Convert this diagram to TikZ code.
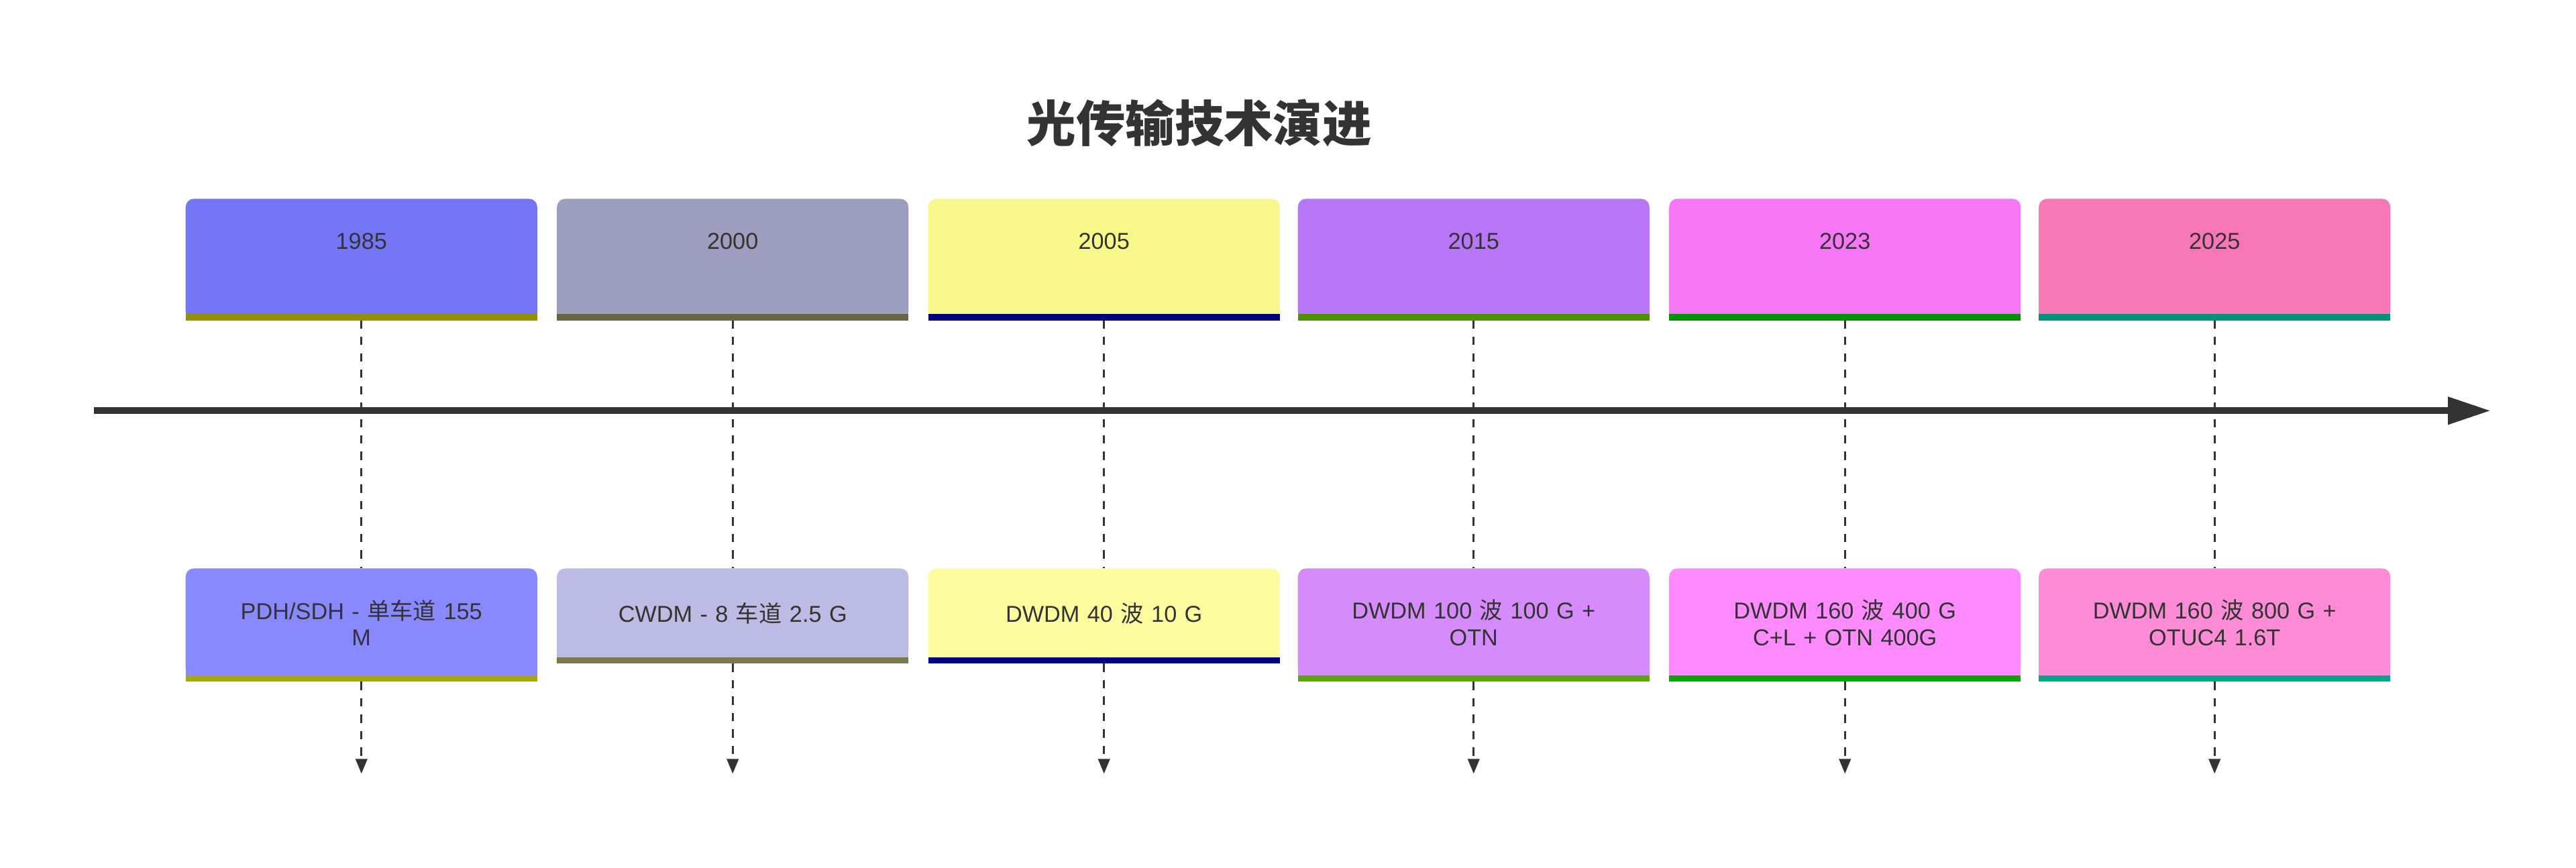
\documentclass[tikz,border=0pt]{standalone}
\usepackage{fontspec}
\setmainfont{Liberation Sans}
\newfontfamily\cjk{Noto Sans CJK SC}
\usetikzlibrary{arrows.meta}
\definecolor{tc}{HTML}{333333}
\tikzset{
 yearbox/.style={minimum width=214pt,minimum height=73pt,text=tc,font=\fontsize{14}{16}\selectfont,inner sep=0pt},
 evbox/.style={text width=200pt,align=center,text=tc,font=\fontsize{14}{16}\selectfont,inner sep=0pt},
 dash line/.style={draw=tc,line width=1.4pt,dash pattern=on 5pt off 5pt,-{Triangle[length=9pt,width=7pt]}},
}
\newcommand\ybox[5]{% x, fill, border, label, name
 \definecolor{f#5}{HTML}{#2}\definecolor{b#5}{HTML}{#3}
 \fill[f#5,rounded corners=5pt] (#1,-121) rectangle (#1+214,-194);
 \fill[f#5] (#1,-180) rectangle (#1+214,-192);
 \fill[b#5] (#1,-191) rectangle (#1+214,-195);
 \node[yearbox,anchor=north] (#5) at (#1+107,-121) {};
 \node[text=tc,font=\fontsize{14}{16}\selectfont] at (#1+107,-147) {#4};
}
\newcommand\ebox[6]{% x, fill, border, bottom y, text, name
 \definecolor{f#6}{HTML}{#2}\definecolor{b#6}{HTML}{#3}
 \fill[f#6,rounded corners=5pt] (#1,-346) rectangle (#1+214,-#4);
 \fill[f#6] (#1,-#4+12) rectangle (#1+214,-#4);
 \fill[b#6] (#1,-#4+1) rectangle (#1+214,-#4-3);
 \coordinate (#6top) at (#1+107,-346);
 \coordinate (#6) at (#1+107,-#4-3);
 \node[evbox] at (#1+107,-346-#4/2+173) {#5};
}
\begin{document}
\begin{tikzpicture}[x=1pt,y=1pt]
\useasboundingbox (0,0) rectangle (1568,-528);
\fill[white] (0,0) rectangle (1568,-528);
\node[text=tc,font=\fontsize{30}{34}\selectfont\cjk\bfseries] (title) at (730,-75) {光传输技术演进};
\ybox{113}{7476F6}{939100}{1985}{y1}
\ybox{339}{9D9DBE}{676542}{2000}{y2}
\ybox{565}{F8F88A}{000080}{2005}{y3}
\ybox{790}{B676F6}{4D9100}{2015}{y4}
\ybox{1016}{F776F6}{009100}{2023}{y5}
\ybox{1241}{F776B6}{00917A}{2025}{y6}
\ebox{113}{8888FF}{A8A800}{412}{PDH/SDH - {\cjk 单车道} 155\\M}{e1}
\ebox{339}{BBBBE3}{7A7A52}{401}{CWDM - 8 {\cjk 车道} 2.5 G}{e2}
\ebox{565}{FDFDA0}{000080}{401}{DWDM 40 {\cjk 波} 10 G}{e3}
\ebox{790}{D68BFD}{5AA800}{412}{DWDM 100 {\cjk 波} 100 G +\\OTN}{e4}
\ebox{1016}{FD8BFD}{00A800}{412}{DWDM 160 {\cjk 波} 400 G\\C+L + OTN 400G}{e5}
\ebox{1241}{FD8BD6}{00A88B}{412}{DWDM 160 {\cjk 波} 800 G +\\OTUC4 1.6T}{e6}
\foreach \i/\x in {1/220,2/446,3/672,4/897,5/1123,6/1348}{
 \draw[tc,line width=1.4pt,dash pattern=on 5pt off 5pt] (\x,-195) -- (e\i top);
 \coordinate (end\i) at (\x,-471);
 \draw[dash line] (e\i) -- (end\i);
}
\coordinate (axs) at (57,-250);
\coordinate (axe) at (1516,-250);
\draw[tc,line width=4pt,-{Triangle[length=26pt,width=16pt]}] (axs) -- (axe);
\end{tikzpicture}
\end{document}
